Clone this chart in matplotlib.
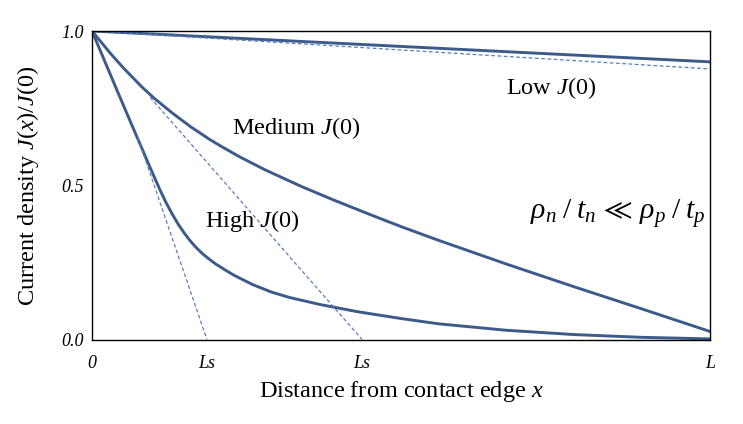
import matplotlib
matplotlib.use("Agg")
import matplotlib.pyplot as plt

plt.rcParams["font.family"] = ["Liberation Serif", "DejaVu Serif"]
plt.rcParams["mathtext.fontset"] = "custom"
plt.rcParams["mathtext.rm"] = "Liberation Serif"
plt.rcParams["mathtext.it"] = "Liberation Serif:italic"
plt.rcParams["mathtext.fallback"] = "stix"

# values (x normalised to L, y = J(x)/J(0))
low_x = [0.0, 0.5, 1.0]
low_y = [1.0, 0.95, 0.90]
low_tan_x = [0.0, 1.0]
low_tan_y = [1.0, 0.877]

med_x = [0.0, 0.03, 0.05, 0.08, 0.10, 0.13, 0.16, 0.19, 0.21, 0.24, 0.28,
         0.34, 0.39, 0.45, 0.50, 0.56, 0.67, 0.78, 0.89, 1.0]
med_y = [1.0, 0.927, 0.882, 0.820, 0.783, 0.734, 0.689, 0.649, 0.625, 0.591,
         0.550, 0.495, 0.453, 0.405, 0.366, 0.322, 0.245, 0.171, 0.099, 0.026]
med_tan_x = [0.094, 0.437]
med_tan_y = [0.785, 0.0]

high_x = [0.0, 0.02, 0.04, 0.06, 0.08, 0.09, 0.10, 0.11, 0.12, 0.13, 0.14,
          0.15, 0.16, 0.17, 0.18, 0.19, 0.20, 0.215, 0.23, 0.245, 0.26, 0.29,
          0.32, 0.37, 0.43, 0.50, 0.56, 0.67, 0.78, 0.89, 1.0]
high_y = [1.0, 0.905, 0.810, 0.716, 0.623, 0.576, 0.530, 0.485, 0.443, 0.406,
          0.372, 0.343, 0.317, 0.295, 0.276, 0.260, 0.245, 0.226, 0.208, 0.193,
          0.178, 0.154, 0.136, 0.113, 0.090, 0.068, 0.051, 0.030, 0.016, 0.007,
          0.002]
high_tan_x = [0.074, 0.186]
high_tan_y = [0.655, 0.0]

xtick_pos = [0.0, 0.186, 0.437, 1.0]
xtick_lab = ["0", "Ls", "Ls", "L"]
ytick_pos = [0.0, 0.5, 1.0]
ytick_lab = ["0.0", "0.5", "1.0"]

solid = "#3c5a8a"
dash = "#5a7fb6"

fig = plt.figure(figsize=(7.43, 4.24), dpi=100)
ax = fig.add_axes([92 / 743, 84.5 / 424, 618 / 743, 308.5 / 424])

for xs, ys in [(low_x, low_y), (med_x, med_y), (high_x, high_y)]:
    ax.plot(xs, ys, color=solid, lw=2.1, solid_capstyle="round",
            solid_joinstyle="round")
for xs, ys in [(low_tan_x, low_tan_y), (med_tan_x, med_tan_y), (high_tan_x, high_tan_y)]:
    ax.plot(xs, ys, color=dash, lw=0.9, ls=(0, (3, 2)))

ax.set_xlim(0, 1)
ax.set_ylim(0, 1)
ax.set_xticks(xtick_pos, xtick_lab)
ax.set_yticks(ytick_pos, ytick_lab)
ax.tick_params(length=0, labelsize=13)
ax.tick_params(axis="x", pad=11)
ax.tick_params(axis="y", pad=6)
for lab in ax.get_xticklabels() + ax.get_yticklabels():
    lab.set_fontstyle("italic")
for sp in ax.spines.values():
    sp.set_linewidth(1.0)
    sp.set_color("black")

ax.set_xlabel(r"Distance from contact edge $\mathit{x}$", fontsize=17.5)
ax.xaxis.set_label_coords(0.5, -0.17)
ax.xaxis.label.set_va("center")
ax.set_ylabel(r"Current density $\mathit{J(x)/J(0)}$", fontsize=17.5)
ax.yaxis.set_label_coords(-0.1036, 0.5)
ax.yaxis.label.set_va("center")

ax.text(0.670, 0.815, r"Low $\mathit{J(0)}$", fontsize=17.5, va="center")
ax.text(0.2265, 0.686, r"Medium $\mathit{J(0)}$", fontsize=17.5, va="center")
ax.text(0.183, 0.385, r"High $\mathit{J(0)}$", fontsize=17.5, va="center")
ax.text(0.709, 0.41, r"$\rho_n\;/\;t_n\, \ll\, \rho_p\;/\;t_p$", fontsize=21.5, va="center")

fig.savefig("out.png", dpi=100)
